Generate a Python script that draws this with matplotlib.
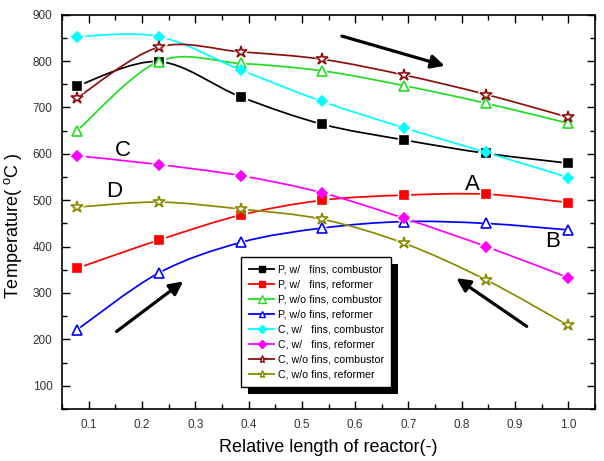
import numpy as np
import matplotlib; matplotlib.use('Agg')
import matplotlib.pyplot as plt
from matplotlib.path import Path
from matplotlib.patches import PathPatch, Rectangle
from matplotlib.lines import Line2D
from matplotlib.transforms import IdentityTransform
from matplotlib.ticker import MultipleLocator

plt.rcParams['font.family'] = ['Liberation Sans', 'DejaVu Sans']
plt.rcParams['mathtext.fontset'] = 'custom'
plt.rcParams['mathtext.rm'] = 'Liberation Sans'

x = [0.077, 0.231, 0.385, 0.538, 0.692, 0.846, 1.0]

p_fin_comb = [746, 799, 723, 664, 630, 601, 580]
p_fin_ref = [353, 414, 468, 500, 511, 513, 495]
p_nofin_comb = [649, 799, 795, 779, 747, 709, 666]
p_nofin_ref = [220, 343, 409, 440, 454, 450, 436]
c_fin_comb = [853, 853, 781, 713, 656, 603, 549]
c_fin_ref = [596, 577, 553, 516, 461, 400, 333]
c_nofin_comb = [720, 830, 820, 804, 770, 728, 679]
c_nofin_ref = [485, 496, 481, 459, 407, 328, 230]

labels = ['P, w/   fins, combustor', 'P, w/   fins, reformer',
          'P, w/o fins, combustor', 'P, w/o fins, reformer',
          'C, w/   fins, combustor', 'C, w/   fins, reformer',
          'C, w/o fins, combustor', 'C, w/o fins, reformer']
series = [p_fin_comb, p_fin_ref, p_nofin_comb, p_nofin_ref,
          c_fin_comb, c_fin_ref, c_nofin_comb, c_nofin_ref]

# color, marker, size, filled
styles = [
    ('#000000', 's', 5.6, True),
    ('#ff0000', 's', 5.6, True),
    ('#22dd22', '^', 7.8, False),
    ('#0000ff', '^', 7.0, False),
    ('#00ffff', 'D', 5.6, True),
    ('#ff00ff', 'D', 5.6, True),
    ('#8b1010', '*', 9, False),
    ('#8b8b00', '*', 9, False),
]


def spline_path(xs, ys, t=1/6.):
    # Catmull-Rom through the points, as cubic bezier segments
    xs = np.asarray(xs, float); ys = np.asarray(ys, float)
    pts = np.column_stack([xs, ys])
    verts = [pts[0]]
    codes = [Path.MOVETO]
    n = len(pts)
    for i in range(n - 1):
        p0 = pts[max(i - 1, 0)]
        p1 = pts[i]
        p2 = pts[i + 1]
        p3 = pts[min(i + 2, n - 1)]
        c1 = p1 + (p2 - p0) * t
        c2 = p2 - (p3 - p1) * t
        verts += [c1, c2, p2]
        codes += [Path.CURVE4] * 3
    return Path(verts, codes)


fig = plt.figure(figsize=(6.04, 4.61), dpi=100)
ax = fig.add_axes([0.103, 0.113, 0.882, 0.855])

handles = []
for vals, lab, (col, mk, ms, filled) in zip(series, labels, styles):
    ax.add_patch(PathPatch(spline_path(x, vals), facecolor='none',
                           edgecolor=col, lw=1.25, zorder=2))
    # white halo to make the little gap round each marker
    ax.plot(x, vals, ls='none', marker=mk, ms=ms + 3, mfc='white',
            mec='white', zorder=3)
    ax.plot(x, vals, ls='none', marker=mk, ms=ms,
            mfc=col if filled else 'white', mec=col, mew=1.2, zorder=4)
    handles.append(Line2D([], [], color=col, lw=1.3, marker=mk,
                          ms=ms * 0.65, mfc=col if filled else 'white',
                          mec=col, mew=1.0, label=lab))

ax.set_xlim(0.05, 1.05)
ax.set_ylim(50, 900)
ax.xaxis.set_minor_locator(MultipleLocator(0.05))
ax.yaxis.set_minor_locator(MultipleLocator(50))
ax.set_xticks(np.arange(0.1, 1.01, 0.1))
ax.set_xticklabels([f'{v:.1f}' for v in np.arange(0.1, 1.01, 0.1)])
ax.set_yticks(range(100, 901, 100))
ax.tick_params(which='both', direction='in', top=True, right=True,
               labelsize=8.5, labelcolor='#333333', width=1.0)
ax.tick_params(which='major', length=6, pad=7)
ax.tick_params(which='minor', length=3.5)
for s in ax.spines.values():
    s.set_linewidth(1.2)

ax.set_xlabel('Relative length of reactor(-)', fontsize=13, labelpad=6)
ax.set_ylabel('Temperature( $^{\\mathrm{o}}$C )', fontsize=13)
ax.yaxis.set_label_coords(-0.072, 0.465)

for txt, tx, ty in [('C', 0.163, 608), ('D', 0.147, 519),
                    ('A', 0.82, 535), ('B', 0.971, 411)]:
    ax.text(tx, ty, txt, fontsize=16, ha='center', va='center')

arrows = [((0.575, 854), (0.768, 790)),
          ((0.152, 217), (0.277, 325)),
          ((0.922, 228), (0.79, 332))]
for tail, head in arrows:
    ax.annotate('', xy=head, xytext=tail,
                arrowprops=dict(arrowstyle='-|>', lw=2.3, color='black',
                                mutation_scale=20, shrinkA=0, shrinkB=0))

leg = ax.legend(handles=handles, loc='upper left',
                bbox_to_anchor=(0.336, 0.386), borderaxespad=0,
                fontsize=7.7, handlelength=2.4, handletextpad=0.3,
                labelspacing=0.47, fancybox=False, framealpha=1,
                edgecolor='black', borderpad=0.7)
leg.get_frame().set_linewidth(1.0)
leg.set_zorder(6)

fig.canvas.draw()
bb = leg.get_window_extent()
ax.add_patch(Rectangle((bb.x0 + 7, bb.y0 - 7), bb.width, bb.height,
                       transform=IdentityTransform(), facecolor='black',
                       edgecolor='none', zorder=5.5, clip_on=False))

fig.savefig('out.png', dpi=100)
